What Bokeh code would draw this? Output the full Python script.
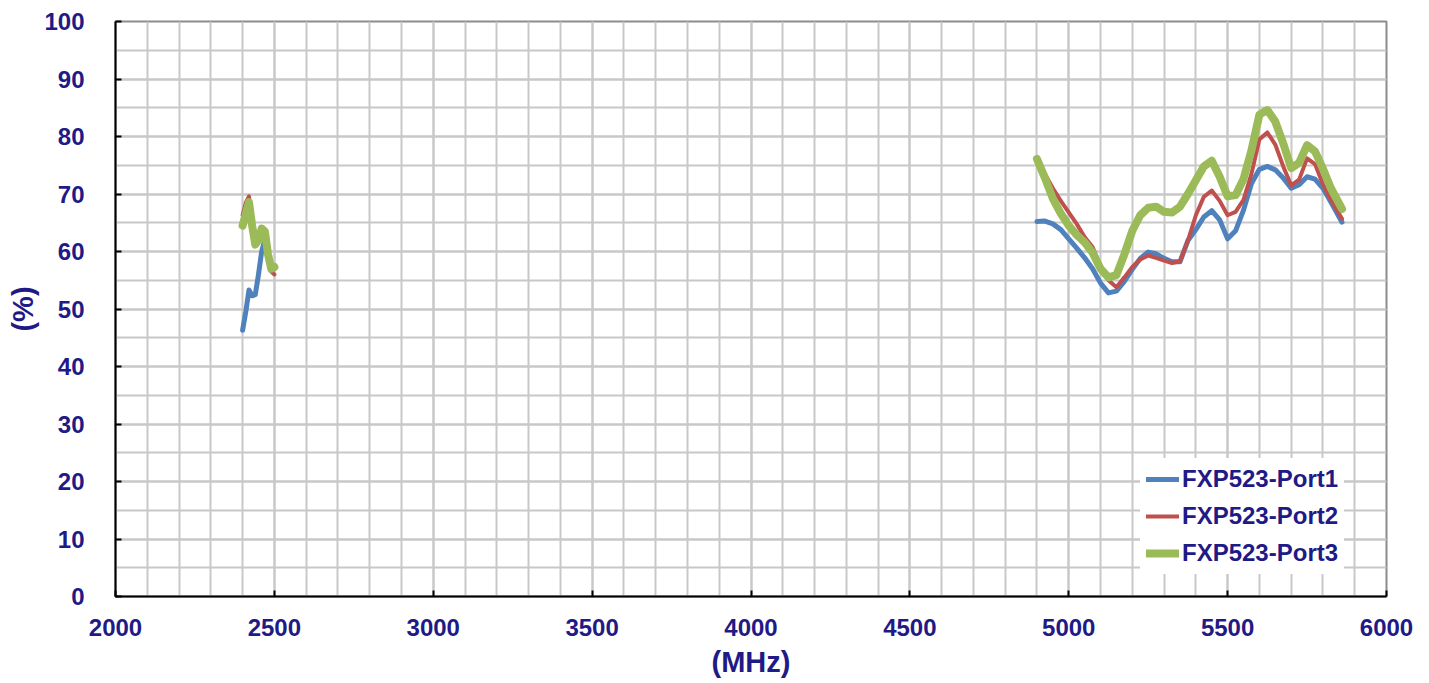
import numpy as np
from bokeh.plotting import figure
from bokeh.models import Range1d, SingleIntervalTicker, Legend, LegendItem
from bokeh.embed import file_html
from bokeh.resources import INLINE

# ---------------- data ----------------
freq_24 = [2400, 2410, 2420, 2430, 2440, 2450, 2460, 2470, 2480, 2490, 2500]
port1_24 = [46.3, 49.5, 53.3, 52.3, 52.5, 56.0, 60.0, 62.0, 59.5, 57.0, 57.0]
port2_24 = [66.3, 68.5, 69.6, 65.0, 61.5, 62.0, 64.0, 63.0, 59.0, 56.5, 56.0]
port3_24 = [64.5, 66.5, 68.6, 64.5, 61.2, 62.0, 64.0, 63.5, 59.5, 57.0, 57.3]

freq_5g = [4900, 4925, 4950, 4975, 5000, 5025, 5050, 5075, 5100, 5125,
           5150, 5175, 5200, 5225, 5250, 5275, 5300, 5325, 5350, 5375,
           5400, 5425, 5450, 5475, 5500, 5525, 5550, 5575, 5600, 5625,
           5650, 5675, 5700, 5725, 5750, 5775, 5800, 5825, 5860]
port1_5g = [65.2, 65.3, 64.8, 63.8, 62.2, 60.6, 58.9, 57.0, 54.5, 52.8,
            53.1, 54.8, 56.9, 58.8, 59.9, 59.6, 58.8, 58.2, 58.2, 61.9,
            63.8, 66.0, 67.1, 65.5, 62.2, 63.6, 67.2, 71.8, 74.3, 74.8,
            74.2, 72.8, 71.0, 71.6, 73.0, 72.6, 71.0, 68.6, 65.1]
port2_5g = [75.8, 73.5, 71.0, 68.8, 66.8, 64.8, 62.5, 60.8, 57.4, 55.0,
            53.8, 55.5, 57.3, 58.6, 59.3, 58.9, 58.4, 58.0, 58.3, 61.9,
            66.3, 69.5, 70.6, 68.8, 66.3, 66.9, 69.0, 73.5, 79.5, 80.7,
            78.6, 74.8, 71.5, 72.5, 76.2, 75.2, 71.7, 69.0, 65.7]
port3_5g = [76.1, 72.8, 69.2, 66.6, 64.5, 62.9, 61.6, 59.8, 57.0, 55.5,
            55.9, 59.5, 63.6, 66.3, 67.6, 67.8, 66.9, 66.8, 67.8, 70.0,
            72.4, 74.8, 75.8, 73.0, 69.6, 69.8, 72.6, 77.6, 83.8, 84.6,
            82.6, 78.8, 74.5, 75.4, 78.5, 77.4, 74.4, 71.0, 67.4]

series_names = ["FXP523-Port1", "FXP523-Port2", "FXP523-Port3"]
series_colors = ["#4F81BD", "#C0504D", "#9BBB59"]
series_widths = [5, 4, 8]

x_ticks = [2000, 2500, 3000, 3500, 4000, 4500, 5000, 5500, 6000]
y_ticks = [0, 10, 20, 30, 40, 50, 60, 70, 80, 90, 100]

TEXT = "#1F1A86"
FONT = "Liberation Sans"

# ---------------- figure ----------------
p = figure(width=1421, height=680, output_backend="svg", toolbar_location=None,
           x_range=Range1d(2000, 6000), y_range=Range1d(0, 100),
           min_border_left=115, min_border_right=35, min_border_top=21,
           min_border_bottom=84)
p.background_fill_color = "white"
p.border_fill_color = "white"
p.outline_line_color = "#8C8C8C"
p.outline_line_width = 2

p.xaxis.ticker = SingleIntervalTicker(interval=500, num_minor_ticks=5)
p.yaxis.ticker = SingleIntervalTicker(interval=10, num_minor_ticks=2)

for g in (p.xgrid, p.ygrid):
    g.grid_line_color = "#C8C8C8"
    g.grid_line_width = 2
    g.minor_grid_line_color = "#C8C8C8"
    g.minor_grid_line_width = 2

for ax in (p.xaxis, p.yaxis):
    ax.axis_line_color = "black"
    ax.axis_line_width = 2
    ax.major_tick_in = 6
    ax.major_tick_out = 0
    ax.major_tick_line_color = "black"
    ax.major_tick_line_width = 2
    ax.minor_tick_in = 0
    ax.minor_tick_out = 0
    ax.major_label_text_font = FONT
    ax.major_label_text_font_style = "bold"
    ax.major_label_text_font_size = "24px"
    ax.major_label_text_color = TEXT
    ax.axis_label_text_font = FONT
    ax.axis_label_text_font_style = "bold"
    ax.axis_label_text_font_size = "29px"
    ax.axis_label_text_color = TEXT

p.xaxis.axis_label = "(MHz)"
p.yaxis.axis_label = "(%)"
p.xaxis.major_label_standoff = 22
p.xaxis.axis_label_standoff = 7
p.yaxis.major_label_standoff = 31
p.yaxis.axis_label_standoff = 2

ys_24 = [port1_24, port2_24, port3_24]
ys_5g = [port1_5g, port2_5g, port3_5g]
items = []
for name, col, w, a, b in zip(series_names, series_colors, series_widths, ys_24, ys_5g):
    xs = list(freq_24) + [np.nan] + list(freq_5g)
    ys = list(a) + [np.nan] + list(b)
    r = p.line(xs, ys, line_color=col, line_width=w, line_join="round", line_cap="round")
    items.append(LegendItem(label=name, renderers=[r]))

legend = Legend(items=items, location=(1025, 22))
legend.background_fill_color = "white"
legend.background_fill_alpha = 1.0
legend.border_line_alpha = 0
legend.label_text_font = FONT
legend.label_text_font_style = "bold"
legend.label_text_font_size = "24px"
legend.label_text_color = TEXT
legend.glyph_width = 33
legend.glyph_height = 30
legend.label_height = 30
legend.label_standoff = 3
legend.spacing = 7
legend.padding = 6
legend.margin = 0
p.add_layout(legend)

open("out.html", "w").write(file_html(p, INLINE))
